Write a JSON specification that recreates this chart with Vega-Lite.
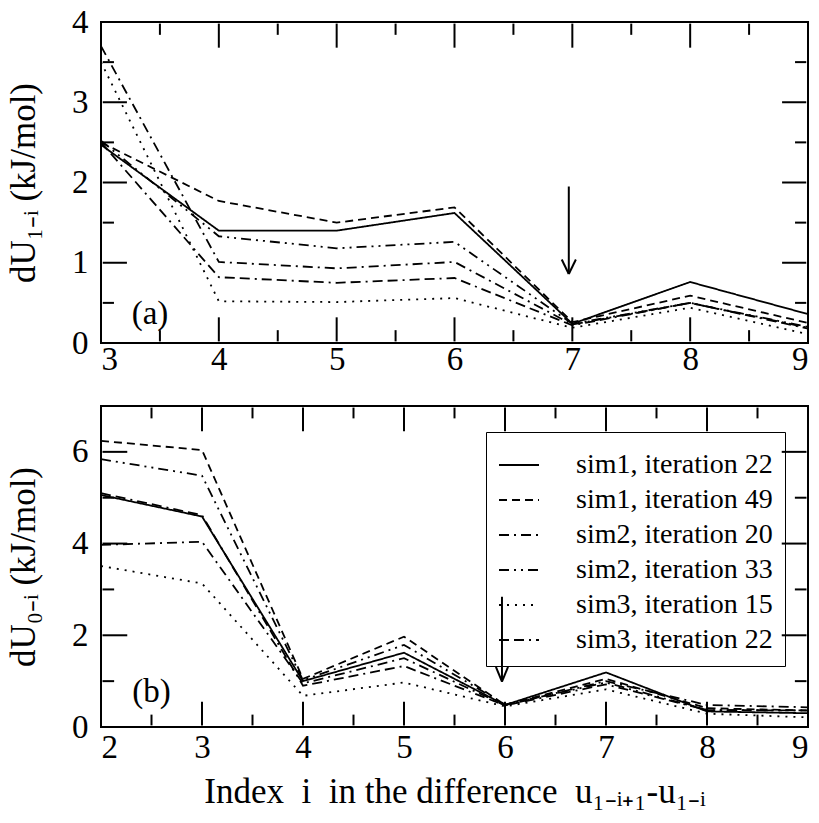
{
  "$schema": "https://vega.github.io/schema/vega-lite/v6.json",
  "background": "white",
  "padding": {"left": 5, "top": 5, "right": 10, "bottom": 5},
  "spacing": 28,
  "config": {
    "font": "Liberation Serif",
    "view": {"stroke": "black", "strokeWidth": 2},
    "axis": {"grid": false, "domain": false, "ticks": false, "labelFont": "Liberation Serif", "titleFont": "Liberation Serif", "labelFontSize": 33, "titleFontSize": 35, "labelColor": "black", "titleColor": "black", "titleFontWeight": "normal"}
  },
  "datasets": {
    "top": [
      {"series": "sim1, iteration 22", "x": 3, "y": 2.47}, {"series": "sim1, iteration 22", "x": 4, "y": 1.40}, {"series": "sim1, iteration 22", "x": 5, "y": 1.40}, {"series": "sim1, iteration 22", "x": 6, "y": 1.62}, {"series": "sim1, iteration 22", "x": 7, "y": 0.24}, {"series": "sim1, iteration 22", "x": 8, "y": 0.76}, {"series": "sim1, iteration 22", "x": 9, "y": 0.36},
      {"series": "sim1, iteration 49", "x": 3, "y": 2.50}, {"series": "sim1, iteration 49", "x": 4, "y": 1.77}, {"series": "sim1, iteration 49", "x": 5, "y": 1.50}, {"series": "sim1, iteration 49", "x": 6, "y": 1.69}, {"series": "sim1, iteration 49", "x": 7, "y": 0.26}, {"series": "sim1, iteration 49", "x": 8, "y": 0.59}, {"series": "sim1, iteration 49", "x": 9, "y": 0.25},
      {"series": "sim2, iteration 20", "x": 3, "y": 3.70}, {"series": "sim2, iteration 20", "x": 4, "y": 1.01}, {"series": "sim2, iteration 20", "x": 5, "y": 0.93}, {"series": "sim2, iteration 20", "x": 6, "y": 1.01}, {"series": "sim2, iteration 20", "x": 7, "y": 0.23}, {"series": "sim2, iteration 20", "x": 8, "y": 0.50}, {"series": "sim2, iteration 20", "x": 9, "y": 0.19},
      {"series": "sim2, iteration 33", "x": 3, "y": 2.52}, {"series": "sim2, iteration 33", "x": 4, "y": 1.33}, {"series": "sim2, iteration 33", "x": 5, "y": 1.18}, {"series": "sim2, iteration 33", "x": 6, "y": 1.26}, {"series": "sim2, iteration 33", "x": 7, "y": 0.24}, {"series": "sim2, iteration 33", "x": 8, "y": 0.50}, {"series": "sim2, iteration 33", "x": 9, "y": 0.20},
      {"series": "sim3, iteration 15", "x": 3, "y": 3.50}, {"series": "sim3, iteration 15", "x": 4, "y": 0.52}, {"series": "sim3, iteration 15", "x": 5, "y": 0.51}, {"series": "sim3, iteration 15", "x": 6, "y": 0.56}, {"series": "sim3, iteration 15", "x": 7, "y": 0.19}, {"series": "sim3, iteration 15", "x": 8, "y": 0.44}, {"series": "sim3, iteration 15", "x": 9, "y": 0.11},
      {"series": "sim3, iteration 22", "x": 3, "y": 2.50}, {"series": "sim3, iteration 22", "x": 4, "y": 0.82}, {"series": "sim3, iteration 22", "x": 5, "y": 0.75}, {"series": "sim3, iteration 22", "x": 6, "y": 0.81}, {"series": "sim3, iteration 22", "x": 7, "y": 0.22}, {"series": "sim3, iteration 22", "x": 8, "y": 0.50}, {"series": "sim3, iteration 22", "x": 9, "y": 0.18}
    ],
    "bottom": [
      {"series": "sim1, iteration 22", "x": 2, "y": 5.06}, {"series": "sim1, iteration 22", "x": 3, "y": 4.59}, {"series": "sim1, iteration 22", "x": 4, "y": 1.00}, {"series": "sim1, iteration 22", "x": 5, "y": 1.62}, {"series": "sim1, iteration 22", "x": 6, "y": 0.48}, {"series": "sim1, iteration 22", "x": 7, "y": 1.19}, {"series": "sim1, iteration 22", "x": 8, "y": 0.34}, {"series": "sim1, iteration 22", "x": 9, "y": 0.30},
      {"series": "sim1, iteration 49", "x": 2, "y": 6.24}, {"series": "sim1, iteration 49", "x": 3, "y": 6.04}, {"series": "sim1, iteration 49", "x": 4, "y": 1.05}, {"series": "sim1, iteration 49", "x": 5, "y": 1.97}, {"series": "sim1, iteration 49", "x": 6, "y": 0.48}, {"series": "sim1, iteration 49", "x": 7, "y": 1.05}, {"series": "sim1, iteration 49", "x": 8, "y": 0.41}, {"series": "sim1, iteration 49", "x": 9, "y": 0.36},
      {"series": "sim2, iteration 20", "x": 2, "y": 3.97}, {"series": "sim2, iteration 20", "x": 3, "y": 4.04}, {"series": "sim2, iteration 20", "x": 4, "y": 0.95}, {"series": "sim2, iteration 20", "x": 5, "y": 1.50}, {"series": "sim2, iteration 20", "x": 6, "y": 0.47}, {"series": "sim2, iteration 20", "x": 7, "y": 1.00}, {"series": "sim2, iteration 20", "x": 8, "y": 0.48}, {"series": "sim2, iteration 20", "x": 9, "y": 0.43},
      {"series": "sim2, iteration 33", "x": 2, "y": 5.84}, {"series": "sim2, iteration 33", "x": 3, "y": 5.48}, {"series": "sim2, iteration 33", "x": 4, "y": 1.02}, {"series": "sim2, iteration 33", "x": 5, "y": 1.79}, {"series": "sim2, iteration 33", "x": 6, "y": 0.49}, {"series": "sim2, iteration 33", "x": 7, "y": 0.97}, {"series": "sim2, iteration 33", "x": 8, "y": 0.37}, {"series": "sim2, iteration 33", "x": 9, "y": 0.36},
      {"series": "sim3, iteration 15", "x": 2, "y": 3.51}, {"series": "sim3, iteration 15", "x": 3, "y": 3.13}, {"series": "sim3, iteration 15", "x": 4, "y": 0.68}, {"series": "sim3, iteration 15", "x": 5, "y": 0.97}, {"series": "sim3, iteration 15", "x": 6, "y": 0.45}, {"series": "sim3, iteration 15", "x": 7, "y": 0.82}, {"series": "sim3, iteration 15", "x": 8, "y": 0.29}, {"series": "sim3, iteration 15", "x": 9, "y": 0.21},
      {"series": "sim3, iteration 22", "x": 2, "y": 5.10}, {"series": "sim3, iteration 22", "x": 3, "y": 4.62}, {"series": "sim3, iteration 22", "x": 4, "y": 0.90}, {"series": "sim3, iteration 22", "x": 5, "y": 1.33}, {"series": "sim3, iteration 22", "x": 6, "y": 0.47}, {"series": "sim3, iteration 22", "x": 7, "y": 0.93}, {"series": "sim3, iteration 22", "x": 8, "y": 0.37}, {"series": "sim3, iteration 22", "x": 9, "y": 0.36}
    ],
    "segTop": [
      {"x": 3.5, "y": 0.02, "x2": 3.5, "y2": 0.16}, {"x": 4, "y": 0.02, "x2": 4, "y2": 0.32}, {"x": 4.5, "y": 0.02, "x2": 4.5, "y2": 0.16}, {"x": 5, "y": 0.02, "x2": 5, "y2": 0.32}, {"x": 5.5, "y": 0.02, "x2": 5.5, "y2": 0.16}, {"x": 6, "y": 0.02, "x2": 6, "y2": 0.32}, {"x": 6.5, "y": 0.02, "x2": 6.5, "y2": 0.16}, {"x": 7, "y": 0.02, "x2": 7, "y2": 0.32}, {"x": 7.5, "y": 0.02, "x2": 7.5, "y2": 0.16}, {"x": 8, "y": 0.02, "x2": 8, "y2": 0.32}, {"x": 8.5, "y": 0.02, "x2": 8.5, "y2": 0.16},
      {"x": 3.5, "y": 3.98, "x2": 3.5, "y2": 3.84}, {"x": 4, "y": 3.98, "x2": 4, "y2": 3.68}, {"x": 4.5, "y": 3.98, "x2": 4.5, "y2": 3.84}, {"x": 5, "y": 3.98, "x2": 5, "y2": 3.68}, {"x": 5.5, "y": 3.98, "x2": 5.5, "y2": 3.84}, {"x": 6, "y": 3.98, "x2": 6, "y2": 3.68}, {"x": 6.5, "y": 3.98, "x2": 6.5, "y2": 3.84}, {"x": 7, "y": 3.98, "x2": 7, "y2": 3.68}, {"x": 7.5, "y": 3.98, "x2": 7.5, "y2": 3.84}, {"x": 8, "y": 3.98, "x2": 8, "y2": 3.68}, {"x": 8.5, "y": 3.98, "x2": 8.5, "y2": 3.84},
      {"x": 3.015, "y": 0.5, "x2": 3.11, "y2": 0.5}, {"x": 3.015, "y": 1, "x2": 3.22, "y2": 1}, {"x": 3.015, "y": 1.5, "x2": 3.11, "y2": 1.5}, {"x": 3.015, "y": 2, "x2": 3.22, "y2": 2}, {"x": 3.015, "y": 2.5, "x2": 3.11, "y2": 2.5}, {"x": 3.015, "y": 3, "x2": 3.22, "y2": 3}, {"x": 3.015, "y": 3.5, "x2": 3.11, "y2": 3.5},
      {"x": 8.985, "y": 0.5, "x2": 8.89, "y2": 0.5}, {"x": 8.985, "y": 1, "x2": 8.78, "y2": 1}, {"x": 8.985, "y": 1.5, "x2": 8.89, "y2": 1.5}, {"x": 8.985, "y": 2, "x2": 8.78, "y2": 2}, {"x": 8.985, "y": 2.5, "x2": 8.89, "y2": 2.5}, {"x": 8.985, "y": 3, "x2": 8.78, "y2": 3}, {"x": 8.985, "y": 3.5, "x2": 8.89, "y2": 3.5},
      {"x": 6.97, "y": 1.95, "x2": 6.97, "y2": 0.86},
      {"x": 6.91, "y": 1.04, "x2": 6.97, "y2": 0.86},
      {"x": 7.03, "y": 1.04, "x2": 6.97, "y2": 0.86}
    ],
    "segBottom": [
      {"x": 2.5, "y": 0.035, "x2": 2.5, "y2": 0.27}, {"x": 3, "y": 0.035, "x2": 3, "y2": 0.55}, {"x": 3.5, "y": 0.035, "x2": 3.5, "y2": 0.27}, {"x": 4, "y": 0.035, "x2": 4, "y2": 0.55}, {"x": 4.5, "y": 0.035, "x2": 4.5, "y2": 0.27}, {"x": 5, "y": 0.035, "x2": 5, "y2": 0.55}, {"x": 5.5, "y": 0.035, "x2": 5.5, "y2": 0.27}, {"x": 6, "y": 0.035, "x2": 6, "y2": 0.55}, {"x": 6.5, "y": 0.035, "x2": 6.5, "y2": 0.27}, {"x": 7, "y": 0.035, "x2": 7, "y2": 0.55}, {"x": 7.5, "y": 0.035, "x2": 7.5, "y2": 0.27}, {"x": 8, "y": 0.035, "x2": 8, "y2": 0.55}, {"x": 8.5, "y": 0.035, "x2": 8.5, "y2": 0.27},
      {"x": 2.5, "y": 6.965, "x2": 2.5, "y2": 6.73}, {"x": 3, "y": 6.965, "x2": 3, "y2": 6.45}, {"x": 3.5, "y": 6.965, "x2": 3.5, "y2": 6.73}, {"x": 4, "y": 6.965, "x2": 4, "y2": 6.45}, {"x": 4.5, "y": 6.965, "x2": 4.5, "y2": 6.73}, {"x": 5, "y": 6.965, "x2": 5, "y2": 6.45}, {"x": 5.5, "y": 6.965, "x2": 5.5, "y2": 6.73}, {"x": 6, "y": 6.965, "x2": 6, "y2": 6.45}, {"x": 6.5, "y": 6.965, "x2": 6.5, "y2": 6.73}, {"x": 7, "y": 6.965, "x2": 7, "y2": 6.45}, {"x": 7.5, "y": 6.965, "x2": 7.5, "y2": 6.73}, {"x": 8, "y": 6.965, "x2": 8, "y2": 6.45}, {"x": 8.5, "y": 6.965, "x2": 8.5, "y2": 6.73},
      {"x": 2.015, "y": 1, "x2": 2.13, "y2": 1}, {"x": 2.015, "y": 2, "x2": 2.26, "y2": 2}, {"x": 2.015, "y": 3, "x2": 2.13, "y2": 3}, {"x": 2.015, "y": 4, "x2": 2.26, "y2": 4}, {"x": 2.015, "y": 5, "x2": 2.13, "y2": 5}, {"x": 2.015, "y": 6, "x2": 2.26, "y2": 6},
      {"x": 8.985, "y": 1, "x2": 8.87, "y2": 1}, {"x": 8.985, "y": 2, "x2": 8.74, "y2": 2}, {"x": 8.985, "y": 3, "x2": 8.87, "y2": 3}, {"x": 8.985, "y": 4, "x2": 8.74, "y2": 4}, {"x": 8.985, "y": 5, "x2": 8.87, "y2": 5}, {"x": 8.985, "y": 6, "x2": 8.74, "y2": 6},
      {"x": 5.97, "y": 2.84, "x2": 5.97, "y2": 0.99},
      {"x": 5.91, "y": 1.31, "x2": 5.97, "y2": 0.99},
      {"x": 6.03, "y": 1.31, "x2": 5.97, "y2": 0.99}
    ],
    "labelTop": [{"x": 3.26, "y": 0.36, "label": "(a)"}],
    "labelBottom": [{"x": 2.31, "y": 0.76, "label": "(b)"}]
  },
  "vconcat": [
    {
      "width": 707,
      "height": 321,
      "layer": [
        {
          "data": {"name": "segTop"},
          "mark": {"type": "rule", "color": "black", "strokeWidth": 2},
          "encoding": {
            "x": {"field": "x", "type": "quantitative", "scale": {"domain": [3, 9], "nice": false, "zero": false}},
            "y": {"field": "y", "type": "quantitative", "scale": {"domain": [0, 4], "nice": false}},
            "x2": {"field": "x2"},
            "y2": {"field": "y2"}
          }
        },
        {
          "data": {"name": "top"},
          "mark": {"type": "line", "color": "black", "strokeWidth": 1.8},
          "encoding": {
            "x": {"field": "x", "type": "quantitative", "scale": {"domain": [3, 9], "nice": false, "zero": false}, "axis": {"orient": "bottom", "values": [3, 4, 5, 6, 7, 8, 9], "labelPadding": 0, "title": null, "format": "d"}},
            "y": {"field": "y", "type": "quantitative", "scale": {"domain": [0, 4], "nice": false}, "axis": {"orient": "left", "values": [0, 1, 2, 3, 4], "labelPadding": 13, "title": "dU₁₋ᵢ (kJ/mol)", "titlePadding": 30, "format": "d"}},
            "strokeDash": {"field": "series", "type": "nominal", "scale": {"domain": ["sim1, iteration 22", "sim1, iteration 49", "sim2, iteration 20", "sim2, iteration 33", "sim3, iteration 15", "sim3, iteration 22"], "range": [[1, 0], [8, 5], [10, 5, 2, 5], [10, 5, 2, 5, 2, 5], [2, 6], [10, 5, 10, 5, 2, 5]]}, "legend": null}
          }
        },
        {
          "data": {"name": "labelTop"},
          "mark": {"type": "text", "font": "Liberation Serif", "fontSize": 33, "align": "left", "baseline": "middle", "color": "black"},
          "encoding": {
            "x": {"field": "x", "type": "quantitative"},
            "y": {"field": "y", "type": "quantitative"},
            "text": {"field": "label"}
          }
        }
      ]
    },
    {
      "width": 707,
      "height": 321,
      "layer": [
        {
          "data": {"name": "segBottom"},
          "mark": {"type": "rule", "color": "black", "strokeWidth": 2},
          "encoding": {
            "x": {"field": "x", "type": "quantitative", "scale": {"domain": [2, 9], "nice": false, "zero": false}},
            "y": {"field": "y", "type": "quantitative", "scale": {"domain": [0, 7], "nice": false}},
            "x2": {"field": "x2"},
            "y2": {"field": "y2"}
          }
        },
        {
          "data": {"name": "bottom"},
          "mark": {"type": "line", "color": "black", "strokeWidth": 1.8},
          "encoding": {
            "x": {"field": "x", "type": "quantitative", "scale": {"domain": [2, 9], "nice": false, "zero": false}, "axis": {"orient": "bottom", "values": [2, 3, 4, 5, 6, 7, 8, 9], "labelPadding": 4, "title": "Index\u00a0 i\u00a0 in the difference\u00a0 u₁₋ᵢ₊₁-u₁₋ᵢ", "titlePadding": 10, "format": "d"}},
            "y": {"field": "y", "type": "quantitative", "scale": {"domain": [0, 7], "nice": false}, "axis": {"orient": "left", "values": [0, 2, 4, 6], "labelPadding": 13, "title": "dU₀₋ᵢ (kJ/mol)", "titlePadding": 30, "format": "d"}},
            "strokeDash": {
              "field": "series", "type": "nominal",
              "scale": {"domain": ["sim1, iteration 22", "sim1, iteration 49", "sim2, iteration 20", "sim2, iteration 33", "sim3, iteration 15", "sim3, iteration 22"], "range": [[1, 0], [8, 5], [10, 5, 2, 5], [10, 5, 2, 5, 2, 5], [2, 6], [10, 5, 10, 5, 2, 5]]},
              "legend": {"orient": "none", "legendX": 385, "legendY": 26, "title": null, "symbolType": "stroke", "symbolSize": 1600, "symbolStrokeWidth": 2, "symbolStrokeColor": "black", "labelFont": "Liberation Serif", "labelFontSize": 28, "labelColor": "black", "labelLimit": 400, "labelOffset": 36, "strokeColor": "black", "padding": 12, "rowPadding": 0}
            }
          }
        },
        {
          "data": {"name": "labelBottom"},
          "mark": {"type": "text", "font": "Liberation Serif", "fontSize": 33, "align": "left", "baseline": "middle", "color": "black"},
          "encoding": {
            "x": {"field": "x", "type": "quantitative"},
            "y": {"field": "y", "type": "quantitative"},
            "text": {"field": "label"}
          }
        }
      ]
    }
  ],
  "resolve": {"scale": {"strokeDash": "independent"}, "legend": {"strokeDash": "independent"}}
}
